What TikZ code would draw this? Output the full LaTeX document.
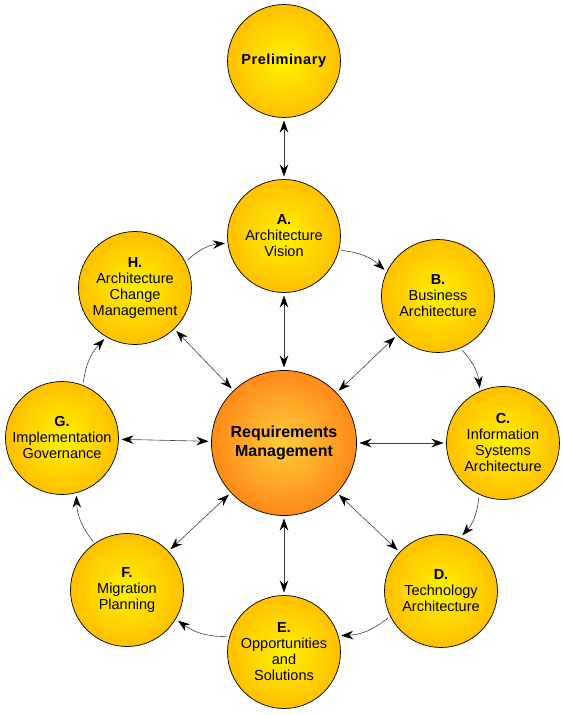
\documentclass[tikz,border=0pt]{standalone}
\usepackage{fontspec}
\setmainfont{Liberation Sans}
\usetikzlibrary{arrows.meta}
\definecolor{ballin}{RGB}{255,242,0}
\definecolor{ballout}{RGB}{255,192,0}
\definecolor{reqin}{RGB}{255,204,60}
\definecolor{reqout}{RGB}{255,138,24}
\begin{document}
\begin{tikzpicture}[x=1pt,y=-1pt,
  ball/.style={circle,draw=black,line width=0.7pt,minimum size=113pt,inner sep=0pt,
    outer sep=3pt,inner color=ballin,outer color=ballout,align=center,
    font=\fontsize{14.5}{16}\selectfont},
  reqball/.style={ball,minimum size=145pt,inner color=reqin,outer color=reqout,
    font=\fontsize{16}{19}\selectfont\bfseries},
  tip/.style={Stealth[length=12pt,width=8.5pt,black]},
  dbl/.style={draw=black!75,line width=0.6pt,{Stealth[length=12pt,width=8.5pt,black]}-{Stealth[length=12pt,width=8.5pt,black]}},
  cyc/.style={draw=black!75,line width=0.6pt,-{Stealth[length=12pt,width=8.5pt,black]},bend left=18}
]
\useasboundingbox (0,0) rectangle (563,715);
\node[ball] (P) at (284,61) {\textbf{\addfontfeature{LetterSpace=4}Preliminary}};
\node[ball] (A) at (284,236) {\textbf{A.}\\Architecture\\Vision};
\node[ball] (B) at (438,296) {\textbf{B.}\\Business\\Architecture};
\node[ball] (C) at (503,443) {\textbf{C.}\\Information\\Systems\\Architecture};
\node[ball] (D) at (441,591) {\textbf{D.}\\Technology\\Architecture};
\node[ball] (E) at (284,652) {\textbf{E.}\\Opportunities\\and\\Solutions};
\node[ball] (F) at (127,590) {\textbf{F.}\\Migration\\Planning};
\node[ball] (G) at (62,438) {\textbf{G.}\\Implementation\\Governance};
\node[ball] (H) at (135,288) {\textbf{H.}\\Architecture\\Change\\Management};
\node[reqball] (R) at (284,443) {Requirements\\Management};

\draw[dbl] (P) -- (A);
\draw[dbl] (A) -- (R);
\draw[dbl] (B) -- (R);
\draw[dbl] (C) -- (R);
\draw[dbl] (D) -- (R);
\draw[dbl] (E) -- (R);
\draw[dbl] (F) -- (R);
\draw[dbl] (G) -- (R);
\draw[dbl] (H) -- (R);

\draw[cyc] (H.28) to (A.187);
\draw[cyc] (A.-14) to (B.154);
\draw[cyc] (B.-66) to (C.113);
\draw[cyc] (C.-114) to (D.69);
\draw[cyc] (D.207) to (E.16);
\draw[cyc] (E.165) to (F.-31);
\draw[cyc] (F.125) to (G.-76);
\draw[cyc] (G.69) to (H.-121);
\end{tikzpicture}
\end{document}
